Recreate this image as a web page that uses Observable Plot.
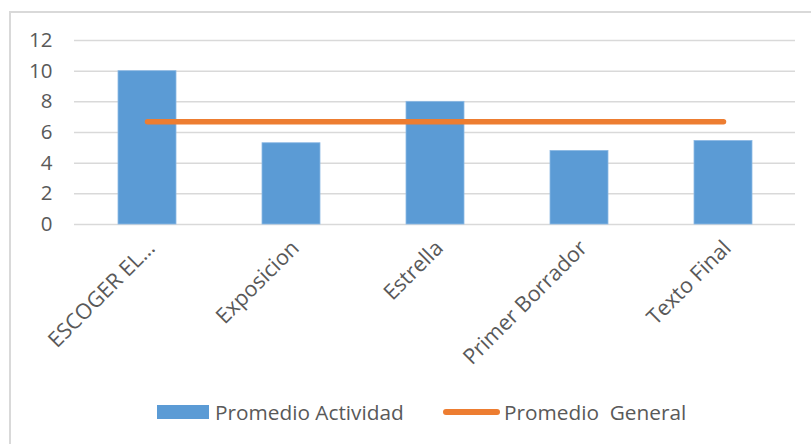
<!DOCTYPE html>
<html>
<head>
<meta charset="utf-8">
<script src="https://cdn.jsdelivr.net/npm/d3@7"></script>
<script src="https://cdn.jsdelivr.net/npm/@observablehq/plot@0.6"></script>
<style>
  html, body { margin: 0; padding: 0; background: #fff; }
  #wrap { position: relative; width: 811px; height: 444px; overflow: hidden; font-family: "Open Sans", sans-serif; }
  #frame { position: absolute; left: 9px; top: 11px; width: 810px; height: 440px; border-left: 2px solid #d9d9d9; border-top: 2px solid #d9d9d9; }
  #chart { position: absolute; left: 0; top: 0; }
  #legend { position: absolute; left: 0; top: 396px; width: 811px; height: 32px; font-size: 20.8px; color: #595959; }
  .item { position: absolute; top: 0; display: flex; align-items: center; height: 32px; white-space: pre; }
  .swatch-bar { width: 52px; height: 14px; background: #5B9BD5; margin-right: 6px; }
  .swatch-line { width: 57px; height: 6px; border-radius: 3px; background: #ED7D31; margin-right: 4px; }
</style>
</head>
<body>
<div id="wrap">
  <div id="frame"></div>
  <div id="chart"></div>
  <div id="legend">
    <div class="item" style="left:157px"><div class="swatch-bar"></div><span id="l1"></span></div>
    <div class="item" style="left:443px"><div class="swatch-line"></div><span id="l2"></span></div>
  </div>
</div>
<script>
const categories = ["ESCOGER EL...", "Exposicion", "Estrella", "Primer Borrador", "Texto Final"];
const promedioActividad = [10, 5.3, 8, 4.8, 5.45];
const promedioGeneral = [6.7, 6.7, 6.7, 6.7, 6.7];
const yTicks = [0, 2, 4, 6, 8, 10, 12];
const seriesNames = ["Promedio Actividad", "Promedio  General"];

document.getElementById("l1").textContent = seriesNames[0];
document.getElementById("l2").textContent = seriesNames[1];

const data = categories.map((c, i) => ({cat: c, act: promedioActividad[i], gen: promedioGeneral[i]}));

const chart = Plot.plot({
  width: 811,
  height: 380,
  marginLeft: 74,
  marginRight: 16,
  marginTop: 40,
  marginBottom: 156,
  style: {fontFamily: "'Open Sans', sans-serif", color: "#595959", background: "transparent"},
  x: {domain: categories, paddingInner: 0.6, paddingOuter: 0.3, label: null},
  y: {domain: [0, 12], label: null},
  marks: [
    Plot.ruleY(yTicks, {stroke: "#d9d9d9", strokeWidth: 1.5}),
    Plot.barY(data, {x: "cat", y: "act", fill: "#5B9BD5", stroke: "#8DB9E4", strokeWidth: 0.8}),
    Plot.line(data, {x: "cat", y: "gen", stroke: "#ED7D31", strokeWidth: 5.5, strokeLinecap: "round"}),
    Plot.axisY({ticks: yTicks, tickSize: 0, tickPadding: 22, fontSize: 20.5, fill: "#595959", label: null}),
    Plot.axisX({tickSize: 0, tickPadding: 17, tickRotate: -45, dx: 4, dy: 3, fontSize: 21.5, fill: "#595959", label: null})
  ]
});
document.getElementById("chart").appendChild(chart);
</script>
</body>
</html>
